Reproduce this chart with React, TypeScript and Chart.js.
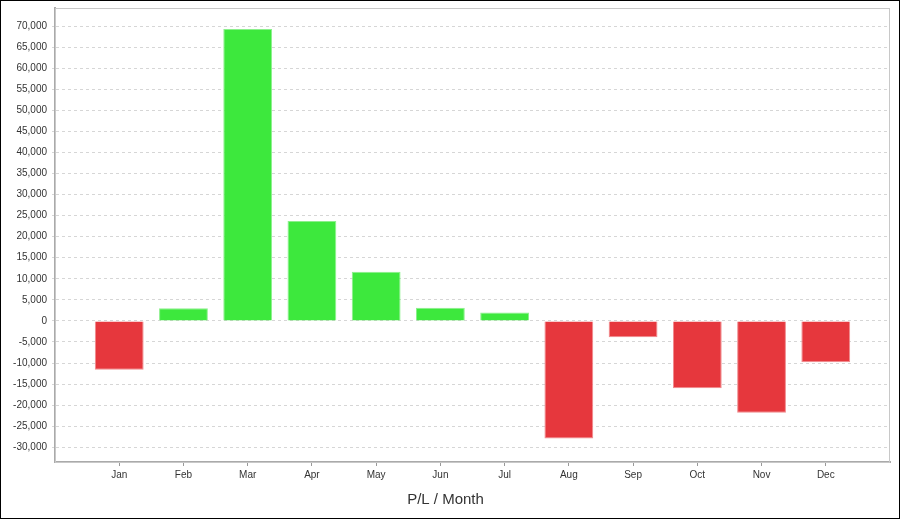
import React, { useEffect, useRef } from "react";
import { Chart, registerables } from "chart.js";

Chart.register(...registerables);

const months = ["Jan", "Feb", "Mar", "Apr", "May", "Jun", "Jul", "Aug", "Sep", "Oct", "Nov", "Dec"];
const profitLoss = [-11600, 3000, 69300, 23700, 11700, 3100, 2000, -27900, -3900, -16000, -21800, -9800];
const yTicks = [-30000, -25000, -20000, -15000, -10000, -5000, 0, 5000, 10000, 15000, 20000, 25000, 30000, 35000, 40000, 45000, 50000, 55000, 60000, 65000, 70000];
const yMin = -33500;
const yMax = 74300;
const chartTitle = "P/L / Month";

const GREEN = "#3de83d";
const GREEN_EDGE = "#8cf08c";
const RED = "#e6373d";
const RED_EDGE = "#f08a8d";

const frame = {
  id: "frame",
  afterDraw(chart: any) {
    const { ctx, chartArea } = chart;
    ctx.save();
    ctx.strokeStyle = "#c8c8c8";
    ctx.lineWidth = 1;
    ctx.strokeRect(chartArea.left + 0.5, chartArea.top + 0.5, chartArea.right - chartArea.left - 1, chartArea.bottom - chartArea.top);
    ctx.restore();
  },
};

export default function App() {
  const ref = useRef<HTMLCanvasElement>(null);
  useEffect(() => {
    if (!ref.current) return;
    const labels = ["", ...months, ""];
    const data = [null, ...profitLoss, null];
    const chart = new Chart(ref.current, {
      type: "bar",
      data: {
        labels,
        datasets: [
          {
            data,
            backgroundColor: data.map((v) => (v !== null && v < 0 ? RED : GREEN)),
            borderColor: data.map((v) => (v !== null && v < 0 ? RED_EDGE : GREEN_EDGE)),
            borderWidth: 1,
            categoryPercentage: 1,
            barPercentage: 0.76,
          },
        ],
      },
      options: {
        animation: false,
        responsive: true,
        maintainAspectRatio: false,
        layout: { padding: { top: 7, right: 9, left: 0, bottom: 0 } },
        plugins: {
          legend: { display: false },
          tooltip: { enabled: false },
          title: {
            display: true,
            text: chartTitle,
            position: "bottom",
            color: "#333",
            font: { family: "'Liberation Sans', Arial, sans-serif", size: 15, weight: "normal" },
            padding: { top: 4, bottom: 9 },
          },
        },
        scales: {
          x: {
            offset: false,
            grid: {
              offset: false,
              drawOnChartArea: false,
              drawTicks: true,
              tickLength: 4,
              tickColor: (ctx: any) => (ctx.index === 0 || ctx.index === labels.length - 1 ? "rgba(0,0,0,0)" : "#999"),
            },
            border: { display: true, color: "#aaa", width: 2 },
            ticks: {
              color: "#333",
              font: { family: "'Liberation Sans', Arial, sans-serif", size: 10 },
              padding: 3,
              maxRotation: 0,
              autoSkip: false,
            },
            afterFit: (scale: any) => {
              scale.height = 25;
              scale.paddingLeft = 0;
              scale.paddingRight = 0;
            },
          },
          y: {
            min: yMin,
            max: yMax,
            grid: {
              color: "#d6d6d6",
              tickLength: 3,
              tickColor: "#d6d6d6",
            },
            border: { display: true, color: "#aaa", width: 2, dash: [3, 3] },
            ticks: {
              color: "#333",
              font: { family: "'Liberation Sans', Arial, sans-serif", size: 10 },
              padding: 5,
              autoSkip: false,
              callback: (v: any) => Number(v).toLocaleString("en-US"),
            },
            afterBuildTicks: (scale: any) => {
              scale.ticks = yTicks.map((v) => ({ value: v }));
            },
            afterFit: (scale: any) => {
              scale.width = 54;
              scale.paddingTop = 0;
              scale.paddingBottom = 0;
            },
          },
        },
      } as any,
      plugins: [frame],
    });
    return () => chart.destroy();
  }, []);
  return (
    <div
      style={{
        position: "fixed",
        left: 0,
        top: 0,
        width: 900,
        height: 519,
        boxSizing: "border-box",
        border: "1px solid #000",
        background: "#fff",
      }}
    >
      <div style={{ position: "relative", width: "100%", height: "100%" }}>
        <canvas ref={ref} />
      </div>
    </div>
  );
}
